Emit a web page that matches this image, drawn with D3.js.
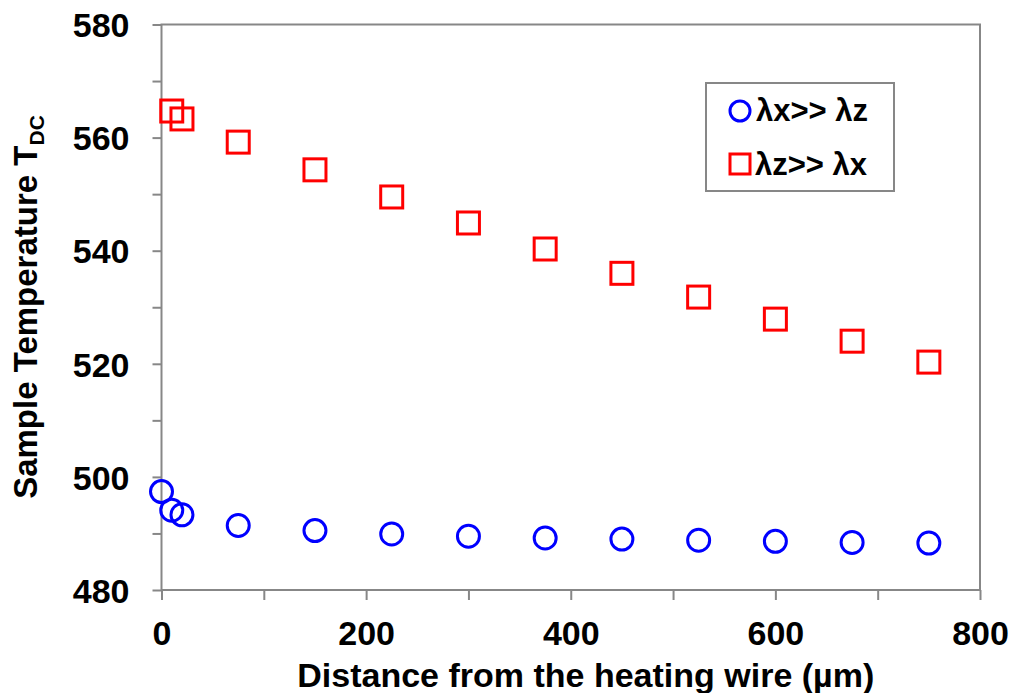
<!DOCTYPE html>
<html><head><meta charset="utf-8">
<script src="https://cdn.jsdelivr.net/npm/d3@7"></script>
<style>body{margin:0;background:#fff}text{font-family:"Liberation Sans",Arial,sans-serif;font-weight:bold}</style>
</head><body>
<svg id="c" width="1011" height="693"></svg>
<script>
const distCircles = [0, 10, 20, 75, 150, 225, 300, 375, 450, 525, 600, 675, 750];
const tempCircles = [497.4, 494.1, 493.3, 491.4, 490.5, 489.9, 489.5, 489.2, 489.0, 488.8, 488.6, 488.4, 488.3];
const distSquares = [10, 20, 75, 150, 225, 300, 375, 450, 525, 600, 675, 750];
const tempSquares = [564.7, 563.3, 559.2, 554.3, 549.5, 544.9, 540.3, 536.0, 531.8, 527.9, 524.0, 520.3];
const xTicks = [0, 200, 400, 600, 800];
const yTicks = [480, 500, 520, 540, 560, 580];
const legendLabels = ["λx>> λz", "λz>> λx"];

const svg = d3.select("#c");
const L = 161.5, R = 980, T = 24.5, B = 590;
const x = d3.scaleLinear().domain([0, 800]).range([L, R]);
const y = d3.scaleLinear().domain([480, 580]).range([B, T]);
const axisColor = "#878787";

// frame
svg.append("rect").attr("x", L).attr("y", T).attr("width", R - L).attr("height", B - T)
  .attr("fill", "none").attr("stroke", axisColor).attr("stroke-width", 2);

// x axis
const xa = svg.append("g").attr("transform", `translate(0,${B})`)
  .call(d3.axisBottom(x).tickValues(d3.range(0, 801, 100)).tickSize(10)
    .tickFormat(d => xTicks.includes(d) ? d : ""));
xa.select(".domain").remove();
xa.selectAll("line").attr("stroke", axisColor).attr("stroke-width", 2);
xa.selectAll("text").attr("font-size", 34).attr("fill", "#000").attr("y", 55).attr("dy", 0);

// y axis
const ya = svg.append("g").attr("transform", `translate(${L},0)`)
  .call(d3.axisLeft(y).tickValues(d3.range(480, 581, 10)).tickSize(9)
    .tickFormat(d => yTicks.includes(d) ? d : ""));
ya.select(".domain").remove();
ya.selectAll("line").attr("stroke", axisColor).attr("stroke-width", 2);
ya.selectAll("text").attr("font-size", 34).attr("fill", "#000").attr("x", -32).attr("dy", "0.36em");

// titles
svg.append("text").attr("x", (L + R) / 2 + 15).attr("y", 687).attr("text-anchor", "middle")
  .attr("font-size", 34).text("Distance from the heating wire (µm)");
const yt = svg.append("text").attr("transform", `translate(37,307) rotate(-90)`)
  .attr("text-anchor", "middle").attr("font-size", 33);
yt.append("tspan").text("Sample Temperature T");
yt.append("tspan").attr("font-size", 21).attr("dy", 7).text("DC");

// data
svg.append("g").selectAll("circle").data(distCircles).join("circle")
  .attr("cx", (d) => x(d)).attr("cy", (d, i) => y(tempCircles[i])).attr("r", 11)
  .attr("fill", "none").attr("stroke", "#0000ff").attr("stroke-width", 3);
const s = 22;
svg.append("g").selectAll("rect").data(distSquares).join("rect")
  .attr("x", d => x(d) - s / 2).attr("y", (d, i) => y(tempSquares[i]) - s / 2)
  .attr("width", s).attr("height", s)
  .attr("fill", "none").attr("stroke", "#ff0000").attr("stroke-width", 3);

// legend
svg.append("rect").attr("x", 706).attr("y", 83).attr("width", 188).attr("height", 108)
  .attr("fill", "#fff").attr("stroke", axisColor).attr("stroke-width", 2);
svg.append("circle").attr("cx", 740).attr("cy", 111).attr("r", 10)
  .attr("fill", "none").attr("stroke", "#0000ff").attr("stroke-width", 3);
svg.append("rect").attr("x", 730).attr("y", 154).attr("width", 20).attr("height", 20)
  .attr("fill", "none").attr("stroke", "#ff0000").attr("stroke-width", 3);
svg.append("text").attr("x", 756).attr("y", 121).attr("font-size", 31).text(legendLabels[0]);
svg.append("text").attr("x", 755).attr("y", 175).attr("font-size", 31).text(legendLabels[1]);
</script>
</body></html>
